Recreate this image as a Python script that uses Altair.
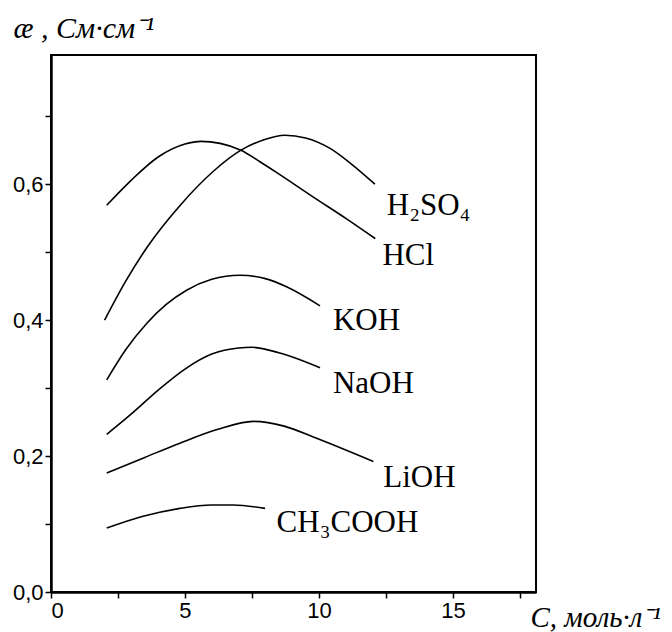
import altair as alt
import pandas as pd

# axis tick values
x_ticks = [0, 2.5, 5, 7.5, 10, 12.5, 15, 17.5]
y_ticks = [0.0, 0.1, 0.2, 0.3, 0.4, 0.5, 0.6, 0.7]

# curves (C, mol/l ; conductivity S/cm)
hcl_c = [2.08, 3.0, 4.0, 5.0, 5.6, 6.31, 7.09, 7.8, 8.54, 9.79, 11.03, 12.1]
hcl_v = [0.569, 0.606, 0.640, 0.659, 0.663, 0.660, 0.650, 0.633, 0.614, 0.581, 0.549, 0.520]

h2so4_c = [2.0, 2.8, 3.6, 4.8, 6.06, 7.09, 7.92, 8.73, 9.5, 10.4, 11.2, 12.09]
h2so4_v = [0.400, 0.458, 0.508, 0.568, 0.619, 0.650, 0.665, 0.672, 0.668, 0.653, 0.630, 0.600]

koh_c = [2.08, 2.8, 3.57, 4.3, 5.06, 6.0, 7.05, 8.0, 8.79, 10.04]
koh_v = [0.312, 0.357, 0.395, 0.423, 0.444, 0.460, 0.466, 0.461, 0.449, 0.421]

naoh_c = [2.08, 3.0, 4.0, 5.0, 6.0, 7.0, 7.5, 8.5, 10.04]
naoh_v = [0.232, 0.262, 0.297, 0.328, 0.350, 0.359, 0.360, 0.352, 0.330]

lioh_c = [2.08, 3.5, 4.81, 6.2, 7.55, 8.7, 9.79, 12.03]
lioh_v = [0.175, 0.198, 0.219, 0.239, 0.251, 0.244, 0.228, 0.192]

ch3cooh_c = [2.08, 3.4, 4.81, 6.0, 6.8, 7.99]
ch3cooh_v = [0.094, 0.111, 0.123, 0.128, 0.128, 0.123]

# label names and anchor positions (data units)
label_names = ["H₂SO₄", "HCl", "KOH", "NaOH", "LiOH", "CH₃COOH"]
label_c = [12.53, 12.37, 10.52, 10.52, 12.4, 8.42]
label_v = [0.554, 0.481, 0.385, 0.293, 0.155, 0.089]

series = [
    ("HCl", hcl_c, hcl_v),
    ("H2SO4", h2so4_c, h2so4_v),
    ("KOH", koh_c, koh_v),
    ("NaOH", naoh_c, naoh_v),
    ("LiOH", lioh_c, lioh_v),
    ("CH3COOH", ch3cooh_c, ch3cooh_v),
]
rows = []
for name, cs, vs in series:
    for c, v in zip(cs, vs):
        rows.append({"series": name, "C": c, "v": v})
df = pd.DataFrame(rows)
lab_df = pd.DataFrame({"name": label_names, "C": label_c, "v": label_v})

x_scale = alt.Scale(domain=[0, 18.1], nice=False, zero=False)
y_scale = alt.Scale(domain=[0, 0.79], nice=False)

common = dict(
    grid=False, domainColor="black", domainWidth=2.5, tickColor="black", tickWidth=1.5,
    tickSize=6, labelFont="Liberation Sans", labelFontSize=22, labelColor="black",
    labelPadding=2, titleColor="black",
    titleFont="Liberation Serif", titleFontStyle="italic", titleFontWeight="normal",
    titleAlign="left", titleBaseline="alphabetic", titleAngle=0,
)

x_axis = alt.Axis(
    values=x_ticks,
    labelExpr="datum.value % 5 == 0 ? datum.value : ''",
    title="C, моль·л⁻¹",
    titleFontSize=29, titleAnchor="start", titleX=479, titleY=34,
    **common,
)
y_axis = alt.Axis(
    values=y_ticks,
    labelExpr="round(datum.value*10) % 2 == 0 ? replace(format(datum.value, '.1f'), '.', ',') : ''",
    title="æ , См·см⁻¹",
    titleFontSize=30, titleX=-38, titleY=-18,
    **common,
)

lines = alt.Chart(df).mark_line(
    color="black", strokeWidth=1.6, interpolate="monotone"
).encode(
    x=alt.X("C:Q", scale=x_scale, axis=x_axis),
    y=alt.Y("v:Q", scale=y_scale, axis=y_axis),
    detail="series:N",
    order="C:Q",
)

labels = alt.Chart(lab_df).mark_text(
    align="left", baseline="alphabetic", font="Liberation Serif", fontSize=31, color="black"
).encode(
    x=alt.X("C:Q", scale=x_scale),
    y=alt.Y("v:Q", scale=y_scale),
    text="name:N",
)

chart = alt.layer(lines, labels).properties(
    width=485, height=537,
    autosize=alt.AutoSizeParams(type="none"),
    padding={"left": 43, "top": 47, "right": 128, "bottom": 40},
).configure_view(
    stroke="black", strokeWidth=2
)

chart.save("out.html", embed_options={"renderer": "svg", "actions": False})
